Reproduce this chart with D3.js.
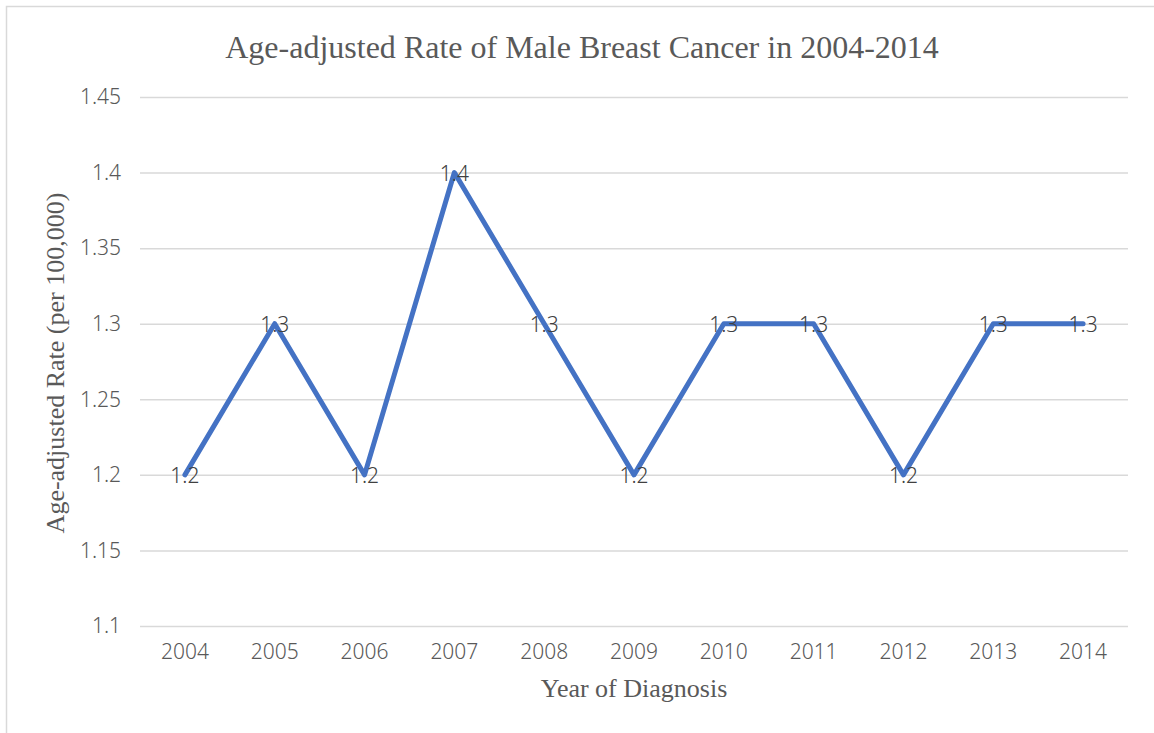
<!DOCTYPE html>
<html>
<head>
<meta charset="utf-8">
<script src="https://cdn.jsdelivr.net/npm/d3@7"></script>
<style>
body{margin:0;background:#fff;}
</style>
</head>
<body>
<svg width="1154" height="733"></svg>
<script>
var years = ['2004','2005','2006','2007','2008','2009','2010','2011','2012','2013','2014'];
var rates = [1.2,1.3,1.2,1.4,1.3,1.2,1.3,1.3,1.2,1.3,1.3];
var yticks = [1.1,1.15,1.2,1.25,1.3,1.35,1.4,1.45];

var svg = d3.select('svg');
var margin = {left:140,right:26,top:97,bottom:107};
var width = +svg.attr('width'), height = +svg.attr('height');
var innerwidth = width - margin.left - margin.right;
var innerheight = height - margin.top - margin.bottom;

var sans = "'Noto Sans', 'DejaVu Sans', sans-serif";
var serif = "'Liberation Serif', 'Times New Roman', serif";

// chart frame
svg.append('rect')
	.attr('x',6.5).attr('y',6.5)
	.attr('width',1160).attr('height',740)
	.attr('fill','none').attr('stroke','#d9d9d9').attr('stroke-width',1.5);

var xscale = d3.scaleBand().domain(years).range([0,innerwidth]);
var yscale = d3.scaleLinear().domain([1.1,1.45]).range([innerheight,0]);

var g = svg.append('g').attr('transform',`translate(${margin.left},${margin.top})`);

// grid + y labels
var yaxis = g.append('g').call(d3.axisLeft(yscale).tickValues(yticks).tickSize(-innerwidth).tickPadding(19).tickFormat(d => d3.format('')(+d.toFixed(2))));
yaxis.select('.domain').remove();
yaxis.selectAll('line').attr('stroke','#d9d9d9').attr('stroke-width',1.5);
yaxis.selectAll('text').attr('fill','#595959').style('font-family',sans).style('font-size','21px').style('font-weight',300);

var xaxis = g.append('g').attr('transform',`translate(0,${innerheight})`).call(d3.axisBottom(xscale).tickSize(0).tickPadding(18));
xaxis.select('.domain').remove();
xaxis.selectAll('text').attr('fill','#595959').style('font-family',sans).style('font-size','21px').style('font-weight',300);

var line = d3.line()
	.x((d,i) => xscale(years[i]) + xscale.bandwidth()/2)
	.y(d => yscale(d));

g.append('path').datum(rates)
	.attr('d',line)
	.attr('fill','none')
	.attr('stroke','#4472c4')
	.attr('stroke-width',5)
	.attr('stroke-linejoin','round')
	.attr('stroke-linecap','round');

g.append('g').selectAll('text').data(rates).enter()
	.append('text')
	.attr('x',(d,i) => xscale(years[i]) + xscale.bandwidth()/2)
	.attr('y',d => yscale(d) + 8)
	.attr('text-anchor','middle')
	.attr('fill','#404040')
	.style('font-family',sans).style('font-size','21px').style('font-weight',300)
	.text(d => d);

svg.append('text')
	.attr('x',582).attr('y',58)
	.attr('text-anchor','middle')
	.attr('fill','#595959')
	.style('font-family',serif).style('font-size','32px')
	.text('Age-adjusted Rate of Male Breast Cancer in 2004-2014');

svg.append('text')
	.attr('x',634).attr('y',697)
	.attr('text-anchor','middle')
	.attr('fill','#595959')
	.style('font-family',serif).style('font-size','26px')
	.text('Year of Diagnosis');

svg.append('text')
	.attr('transform','translate(64,363) rotate(-90)')
	.attr('text-anchor','middle')
	.attr('fill','#595959')
	.style('font-family',serif).style('font-size','26px')
	.text('Age-adjusted Rate (per 100,000)');
</script>
</body>
</html>
